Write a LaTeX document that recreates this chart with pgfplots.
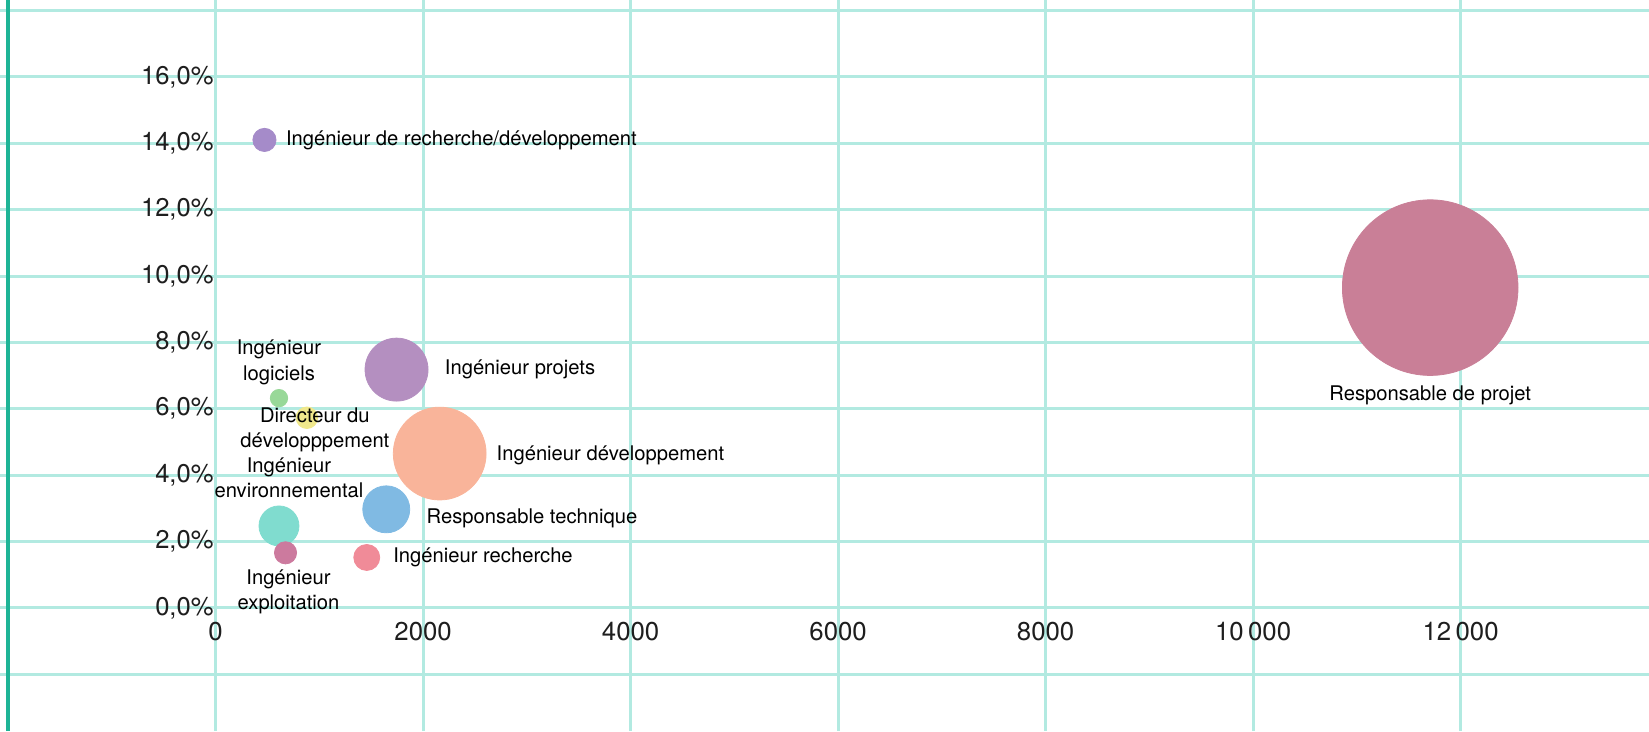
\documentclass[border=0pt]{standalone}
\usepackage{fontspec}
\setmainfont{TeX Gyre Heros}
\usepackage{pgfplots}
\pgfplotsset{compat=1.18}
\definecolor{cGrid}{RGB}{178,234,225}
\definecolor{cDark}{RGB}{30,180,150}
\definecolor{cTxt}{RGB}{30,30,30}
\definecolor{cRD}{RGB}{165,139,201}
\definecolor{cRP}{RGB}{201,127,151}
\definecolor{cIP}{RGB}{180,143,192}
\definecolor{cIL}{RGB}{152,216,152}
\definecolor{cDD}{RGB}{240,232,140}
\definecolor{cID}{RGB}{249,180,154}
\definecolor{cRT}{RGB}{128,186,227}
\definecolor{cIE}{RGB}{128,220,207}
\definecolor{cEX}{RGB}{204,122,158}
\definecolor{cIR}{RGB}{240,139,152}
\begin{document}
\begin{tikzpicture}
\begin{axis}[
  set layers=standard,
  scale only axis, width=824.5pt, height=365.5pt,
  xmin=-2078, xmax=13816, ymin=-3.709, ymax=18.316,
  axis lines=middle, axis line style={draw=none,-},
  hide obscured x ticks=false, hide obscured y ticks=false,
  scaled x ticks=false, scaled y ticks=false,
  xtick={0,2000,...,12000},
  xticklabels={0,2000,4000,6000,8000,10\,000,12\,000},
  ytick={0,2,...,16},
  yticklabels={{0,0\%},{2,0\%},{4,0\%},{6,0\%},{8,0\%},{10,0\%},{12,0\%},{14,0\%},{16,0\%}},
  extra y ticks={-2,18}, extra y tick labels={}, extra y tick style={grid=major},
  grid=major, major grid style={draw=cGrid, line width=1.5pt},
  major tick length=0pt, tick style={draw=none},
  xticklabel style={anchor=center, inner sep=0pt, yshift=-12pt, font=\fontsize{12.9}{15}\selectfont, text=cTxt},
  yticklabel style={anchor=east, inner sep=0pt, xshift=-0.8pt, font=\fontsize{12.8}{15}\selectfont, text=cTxt},
  every node/.append style={text=cTxt},
]
\addplot[cDark, line width=1.6pt] coordinates {(-2000,-3.709) (-2000,18.316)};
% bubbles
\addplot[only marks, mark=*, mark size=43.9pt, color=cRP] coordinates {(11707,9.65)};
\addplot[only marks, mark=*, mark size=23.2pt, color=cID] coordinates {(2160,4.65)};
\addplot[only marks, mark=*, mark size=15.75pt, color=cIP] coordinates {(1744,7.18)};
\addplot[only marks, mark=*, mark size=11.75pt, color=cRT] coordinates {(1645,2.97)};
\addplot[only marks, mark=*, mark size=10pt, color=cIE] coordinates {(611,2.47)};
\addplot[only marks, mark=*, mark size=5.55pt, color=cEX] coordinates {(674,1.66)};
\addplot[only marks, mark=*, mark size=6.5pt, color=cIR] coordinates {(1457,1.52)};
\addplot[only marks, mark=*, mark size=5.8pt, color=cRD] coordinates {(471,14.10)};
\addplot[only marks, mark=*, mark size=4.35pt, color=cIL] coordinates {(611,6.32)};
\addplot[only marks, mark=*, mark size=5.4pt, color=cDD] coordinates {(880,5.73)};
% labels
\tikzset{lab/.style={font=\fontsize{10.1}{12.6}\selectfont, inner sep=0pt, align=center}}
\begin{pgfonlayer}{axis foreground}
\node[lab, anchor=west, xshift=10.6pt] at (axis cs:471,14.10) {Ingénieur de recherche/développement};
\node[lab, anchor=center, yshift=-53.75pt] at (axis cs:11707,9.65) {Responsable de projet};
\node[lab, anchor=west, xshift=24pt] at (axis cs:1744,7.18) {Ingénieur projets};
\node[lab, anchor=center, yshift=17.9pt] at (axis cs:611,6.32) {Ingénieur\\logiciels};
\node[lab, anchor=center, xshift=4pt, yshift=-6.2pt] at (axis cs:880,5.73) {Directeur du\\développpement};
\node[lab, anchor=west, xshift=28.3pt, yshift=-1.1pt] at (axis cs:2160,4.65) {Ingénieur développement};
\node[lab, anchor=west, xshift=20pt, yshift=-4.5pt] at (axis cs:1645,2.97) {Responsable technique};
\node[lab, anchor=center, xshift=5pt, yshift=23.9pt] at (axis cs:611,2.47) {Ingénieur\\environnemental};
\node[lab, anchor=center, xshift=1.5pt, yshift=-19.5pt] at (axis cs:674,1.66) {Ingénieur\\exploitation};
\node[lab, anchor=west, xshift=13.1pt] at (axis cs:1457,1.52) {Ingénieur recherche};
\end{pgfonlayer}
\end{axis}
\pgfresetboundingbox
\path[use as bounding box] (current axis.south west) rectangle (current axis.north east);
\end{tikzpicture}
\end{document}
